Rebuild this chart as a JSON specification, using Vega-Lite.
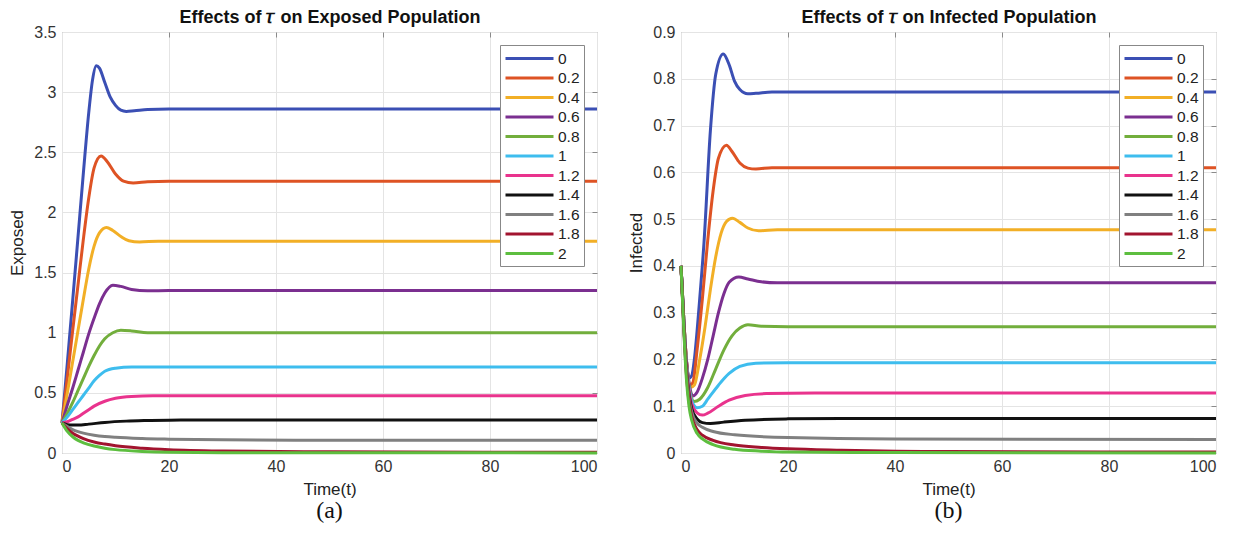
{
  "$schema": "https://vega.github.io/schema/vega-lite/v6.json",
  "padding": {"left": 8, "top": 8, "right": 0, "bottom": 0},
  "background": "white",
  "config": {
    "view": {"stroke": "#8a8a8a", "strokeWidth": 1},
    "axis": {"domain": false, "ticks": false, "grid": true, "gridColor": "#e4e4e4", "labelFont": "Liberation Sans", "labelFontSize": 16, "labelColor": "#333", "titleFont": "Liberation Sans", "titleFontSize": 17, "titleFontWeight": "normal", "titleColor": "#222", "tickColor": "#8a8a8a"},
    "axisX": {"labelPadding": 5, "titlePadding": 7},
    "axisY": {"labelPadding": 6, "titlePadding": 7},
    "legend": {"title": null, "orient": "top-right", "offset": 13, "fillColor": "white", "strokeColor": "#888", "padding": 4, "symbolType": "M-3,0H3", "symbolSize": 256, "symbolStrokeWidth": 3, "symbolOffset": 16, "labelOffset": 19, "labelFontSize": 15.5, "labelFont": "Liberation Sans", "labelColor": "#222", "rowPadding": 1.5}
  },
  "datasets": {
    "E": [
      {"tau":"0","t":0,"v":0.25},{"tau":"0","t":1,"v":0.75},{"tau":"0","t":2,"v":1.27},{"tau":"0","t":3,"v":1.8},{"tau":"0","t":4,"v":2.33},{"tau":"0","t":5,"v":2.83},{"tau":"0","t":5.7,"v":3.1},{"tau":"0","t":6.4,"v":3.22},{"tau":"0","t":7,"v":3.2},{"tau":"0","t":8,"v":3.08},{"tau":"0","t":9,"v":2.96},{"tau":"0","t":10,"v":2.89},{"tau":"0","t":11,"v":2.85},{"tau":"0","t":12,"v":2.84},{"tau":"0","t":13.5,"v":2.845},{"tau":"0","t":16,"v":2.855},{"tau":"0","t":20,"v":2.86},{"tau":"0","t":100,"v":2.86},
      {"tau":"0.2","t":0,"v":0.25},{"tau":"0.2","t":1,"v":0.63},{"tau":"0.2","t":2,"v":1.02},{"tau":"0.2","t":3,"v":1.4},{"tau":"0.2","t":4,"v":1.78},{"tau":"0.2","t":5,"v":2.12},{"tau":"0.2","t":6,"v":2.37},{"tau":"0.2","t":7.3,"v":2.47},{"tau":"0.2","t":8.5,"v":2.42},{"tau":"0.2","t":10,"v":2.32},{"tau":"0.2","t":11.5,"v":2.26},{"tau":"0.2","t":13.3,"v":2.245},{"tau":"0.2","t":16,"v":2.255},{"tau":"0.2","t":20,"v":2.26},{"tau":"0.2","t":100,"v":2.26},
      {"tau":"0.4","t":0,"v":0.25},{"tau":"0.4","t":1,"v":0.5},{"tau":"0.4","t":2,"v":0.76},{"tau":"0.4","t":3,"v":1.02},{"tau":"0.4","t":4,"v":1.28},{"tau":"0.4","t":5,"v":1.53},{"tau":"0.4","t":6,"v":1.72},{"tau":"0.4","t":7,"v":1.83},{"tau":"0.4","t":8.3,"v":1.875},{"tau":"0.4","t":9.5,"v":1.85},{"tau":"0.4","t":11,"v":1.8},{"tau":"0.4","t":12.5,"v":1.765},{"tau":"0.4","t":14.5,"v":1.755},{"tau":"0.4","t":18,"v":1.76},{"tau":"0.4","t":100,"v":1.76},
      {"tau":"0.6","t":0,"v":0.25},{"tau":"0.6","t":1,"v":0.4},{"tau":"0.6","t":2,"v":0.54},{"tau":"0.6","t":3,"v":0.69},{"tau":"0.6","t":4,"v":0.84},{"tau":"0.6","t":5,"v":0.99},{"tau":"0.6","t":6,"v":1.12},{"tau":"0.6","t":7,"v":1.24},{"tau":"0.6","t":8,"v":1.33},{"tau":"0.6","t":9.5,"v":1.395},{"tau":"0.6","t":11,"v":1.385},{"tau":"0.6","t":13,"v":1.36},{"tau":"0.6","t":16,"v":1.348},{"tau":"0.6","t":20,"v":1.35},{"tau":"0.6","t":100,"v":1.35},
      {"tau":"0.8","t":0,"v":0.25},{"tau":"0.8","t":1,"v":0.33},{"tau":"0.8","t":2,"v":0.42},{"tau":"0.8","t":3,"v":0.52},{"tau":"0.8","t":4,"v":0.62},{"tau":"0.8","t":5,"v":0.72},{"tau":"0.8","t":6,"v":0.81},{"tau":"0.8","t":7,"v":0.89},{"tau":"0.8","t":8,"v":0.95},{"tau":"0.8","t":9.5,"v":1.0},{"tau":"0.8","t":11,"v":1.02},{"tau":"0.8","t":13,"v":1.015},{"tau":"0.8","t":16,"v":1.0},{"tau":"0.8","t":100,"v":1.0},
      {"tau":"1","t":0,"v":0.25},{"tau":"1","t":1,"v":0.3},{"tau":"1","t":2,"v":0.36},{"tau":"1","t":3,"v":0.42},{"tau":"1","t":4,"v":0.48},{"tau":"1","t":5,"v":0.54},{"tau":"1","t":6,"v":0.6},{"tau":"1","t":7,"v":0.645},{"tau":"1","t":8,"v":0.68},{"tau":"1","t":10,"v":0.705},{"tau":"1","t":13,"v":0.715},{"tau":"1","t":100,"v":0.715},
      {"tau":"1.2","t":0,"v":0.25},{"tau":"1.2","t":1,"v":0.26},{"tau":"1.2","t":2,"v":0.28},{"tau":"1.2","t":3,"v":0.3},{"tau":"1.2","t":4,"v":0.33},{"tau":"1.2","t":5,"v":0.36},{"tau":"1.2","t":6,"v":0.39},{"tau":"1.2","t":8,"v":0.43},{"tau":"1.2","t":10,"v":0.455},{"tau":"1.2","t":13,"v":0.47},{"tau":"1.2","t":17,"v":0.475},{"tau":"1.2","t":100,"v":0.475},
      {"tau":"1.4","t":0,"v":0.25},{"tau":"1.4","t":1,"v":0.236},{"tau":"1.4","t":2,"v":0.232},{"tau":"1.4","t":3,"v":0.232},{"tau":"1.4","t":5,"v":0.24},{"tau":"1.4","t":8,"v":0.254},{"tau":"1.4","t":12,"v":0.265},{"tau":"1.4","t":16,"v":0.27},{"tau":"1.4","t":20,"v":0.273},{"tau":"1.4","t":30,"v":0.275},{"tau":"1.4","t":100,"v":0.275},
      {"tau":"1.6","t":0,"v":0.25},{"tau":"1.6","t":1,"v":0.22},{"tau":"1.6","t":2,"v":0.195},{"tau":"1.6","t":3,"v":0.178},{"tau":"1.6","t":4,"v":0.165},{"tau":"1.6","t":6,"v":0.148},{"tau":"1.6","t":8,"v":0.137},{"tau":"1.6","t":10,"v":0.13},{"tau":"1.6","t":15,"v":0.12},{"tau":"1.6","t":20,"v":0.115},{"tau":"1.6","t":30,"v":0.11},{"tau":"1.6","t":50,"v":0.106},{"tau":"1.6","t":100,"v":0.105},
      {"tau":"1.8","t":0,"v":0.25},{"tau":"1.8","t":1,"v":0.2},{"tau":"1.8","t":2,"v":0.165},{"tau":"1.8","t":3,"v":0.14},{"tau":"1.8","t":4,"v":0.12},{"tau":"1.8","t":6,"v":0.092},{"tau":"1.8","t":8,"v":0.074},{"tau":"1.8","t":10,"v":0.06},{"tau":"1.8","t":15,"v":0.04},{"tau":"1.8","t":20,"v":0.028},{"tau":"1.8","t":30,"v":0.017},{"tau":"1.8","t":50,"v":0.01},{"tau":"1.8","t":100,"v":0.006},
      {"tau":"2","t":0,"v":0.25},{"tau":"2","t":1,"v":0.18},{"tau":"2","t":2,"v":0.135},{"tau":"2","t":3,"v":0.105},{"tau":"2","t":4,"v":0.085},{"tau":"2","t":6,"v":0.058},{"tau":"2","t":8,"v":0.04},{"tau":"2","t":10,"v":0.028},{"tau":"2","t":15,"v":0.013},{"tau":"2","t":20,"v":0.006},{"tau":"2","t":30,"v":0.003},{"tau":"2","t":100,"v":0.001}
    ],
    "I": [
      {"tau":"0","t":0,"v":0.4},{"tau":"0","t":0.5,"v":0.29},{"tau":"0","t":1,"v":0.2},{"tau":"0","t":1.5,"v":0.16},{"tau":"0","t":2,"v":0.165},{"tau":"0","t":2.5,"v":0.2},{"tau":"0","t":3,"v":0.26},{"tau":"0","t":3.5,"v":0.33},{"tau":"0","t":4.3,"v":0.45},{"tau":"0","t":5.5,"v":0.69},{"tau":"0","t":6.5,"v":0.81},{"tau":"0","t":7.9,"v":0.853},{"tau":"0","t":9,"v":0.83},{"tau":"0","t":10,"v":0.795},{"tau":"0","t":11,"v":0.777},{"tau":"0","t":12.5,"v":0.768},{"tau":"0","t":14,"v":0.769},{"tau":"0","t":17,"v":0.772},{"tau":"0","t":100,"v":0.772},
      {"tau":"0.2","t":0,"v":0.4},{"tau":"0.2","t":0.5,"v":0.29},{"tau":"0.2","t":1,"v":0.2},{"tau":"0.2","t":1.6,"v":0.145},{"tau":"0.2","t":2.2,"v":0.15},{"tau":"0.2","t":3,"v":0.22},{"tau":"0.2","t":4,"v":0.33},{"tau":"0.2","t":5,"v":0.455},{"tau":"0.2","t":6,"v":0.56},{"tau":"0.2","t":7,"v":0.63},{"tau":"0.2","t":8.5,"v":0.658},{"tau":"0.2","t":9.5,"v":0.645},{"tau":"0.2","t":11,"v":0.62},{"tau":"0.2","t":12.5,"v":0.609},{"tau":"0.2","t":14,"v":0.607},{"tau":"0.2","t":17,"v":0.61},{"tau":"0.2","t":100,"v":0.61},
      {"tau":"0.4","t":0,"v":0.4},{"tau":"0.4","t":0.5,"v":0.29},{"tau":"0.4","t":1,"v":0.2},{"tau":"0.4","t":1.8,"v":0.14},{"tau":"0.4","t":2.5,"v":0.145},{"tau":"0.4","t":3.5,"v":0.2},{"tau":"0.4","t":4.5,"v":0.27},{"tau":"0.4","t":5.5,"v":0.35},{"tau":"0.4","t":6.5,"v":0.42},{"tau":"0.4","t":7.5,"v":0.47},{"tau":"0.4","t":8.5,"v":0.495},{"tau":"0.4","t":9.6,"v":0.502},{"tau":"0.4","t":11,"v":0.493},{"tau":"0.4","t":12.5,"v":0.481},{"tau":"0.4","t":14.5,"v":0.475},{"tau":"0.4","t":18,"v":0.477},{"tau":"0.4","t":100,"v":0.477},
      {"tau":"0.6","t":0,"v":0.4},{"tau":"0.6","t":0.5,"v":0.29},{"tau":"0.6","t":1,"v":0.2},{"tau":"0.6","t":1.5,"v":0.15},{"tau":"0.6","t":2.2,"v":0.122},{"tau":"0.6","t":3,"v":0.13},{"tau":"0.6","t":4,"v":0.16},{"tau":"0.6","t":5,"v":0.2},{"tau":"0.6","t":6,"v":0.25},{"tau":"0.6","t":7,"v":0.3},{"tau":"0.6","t":8,"v":0.34},{"tau":"0.6","t":9,"v":0.365},{"tau":"0.6","t":10.8,"v":0.376},{"tau":"0.6","t":12.5,"v":0.372},{"tau":"0.6","t":15,"v":0.366},{"tau":"0.6","t":18,"v":0.364},{"tau":"0.6","t":100,"v":0.364},
      {"tau":"0.8","t":0,"v":0.4},{"tau":"0.8","t":0.5,"v":0.29},{"tau":"0.8","t":1,"v":0.19},{"tau":"0.8","t":1.6,"v":0.135},{"tau":"0.8","t":2.4,"v":0.11},{"tau":"0.8","t":3.5,"v":0.115},{"tau":"0.8","t":5,"v":0.14},{"tau":"0.8","t":6.5,"v":0.18},{"tau":"0.8","t":8,"v":0.22},{"tau":"0.8","t":9.5,"v":0.25},{"tau":"0.8","t":11,"v":0.267},{"tau":"0.8","t":12.5,"v":0.274},{"tau":"0.8","t":15,"v":0.271},{"tau":"0.8","t":20,"v":0.27},{"tau":"0.8","t":100,"v":0.27},
      {"tau":"1","t":0,"v":0.4},{"tau":"1","t":0.5,"v":0.29},{"tau":"1","t":1,"v":0.19},{"tau":"1","t":1.5,"v":0.14},{"tau":"1","t":2,"v":0.112},{"tau":"1","t":3,"v":0.097},{"tau":"1","t":4,"v":0.1},{"tau":"1","t":5,"v":0.115},{"tau":"1","t":7,"v":0.145},{"tau":"1","t":9,"v":0.17},{"tau":"1","t":11,"v":0.185},{"tau":"1","t":14,"v":0.192},{"tau":"1","t":20,"v":0.193},{"tau":"1","t":100,"v":0.193},
      {"tau":"1.2","t":0,"v":0.4},{"tau":"1.2","t":0.5,"v":0.285},{"tau":"1.2","t":1,"v":0.185},{"tau":"1.2","t":1.5,"v":0.135},{"tau":"1.2","t":2,"v":0.105},{"tau":"1.2","t":3,"v":0.086},{"tau":"1.2","t":4,"v":0.081},{"tau":"1.2","t":5,"v":0.085},{"tau":"1.2","t":7,"v":0.1},{"tau":"1.2","t":9,"v":0.113},{"tau":"1.2","t":12,"v":0.123},{"tau":"1.2","t":16,"v":0.127},{"tau":"1.2","t":25,"v":0.128},{"tau":"1.2","t":100,"v":0.128},
      {"tau":"1.4","t":0,"v":0.4},{"tau":"1.4","t":0.5,"v":0.28},{"tau":"1.4","t":1,"v":0.18},{"tau":"1.4","t":1.5,"v":0.125},{"tau":"1.4","t":2,"v":0.095},{"tau":"1.4","t":3,"v":0.073},{"tau":"1.4","t":4,"v":0.065},{"tau":"1.4","t":5.5,"v":0.063},{"tau":"1.4","t":8,"v":0.066},{"tau":"1.4","t":12,"v":0.07},{"tau":"1.4","t":20,"v":0.073},{"tau":"1.4","t":30,"v":0.074},{"tau":"1.4","t":100,"v":0.074},
      {"tau":"1.6","t":0,"v":0.4},{"tau":"1.6","t":0.5,"v":0.28},{"tau":"1.6","t":1,"v":0.175},{"tau":"1.6","t":1.5,"v":0.118},{"tau":"1.6","t":2,"v":0.088},{"tau":"1.6","t":3,"v":0.064},{"tau":"1.6","t":4,"v":0.055},{"tau":"1.6","t":6,"v":0.046},{"tau":"1.6","t":10,"v":0.039},{"tau":"1.6","t":20,"v":0.033},{"tau":"1.6","t":40,"v":0.03},{"tau":"1.6","t":100,"v":0.029},
      {"tau":"1.8","t":0,"v":0.4},{"tau":"1.8","t":0.5,"v":0.275},{"tau":"1.8","t":1,"v":0.17},{"tau":"1.8","t":1.5,"v":0.11},{"tau":"1.8","t":2,"v":0.078},{"tau":"1.8","t":3,"v":0.05},{"tau":"1.8","t":4,"v":0.038},{"tau":"1.8","t":6,"v":0.027},{"tau":"1.8","t":10,"v":0.017},{"tau":"1.8","t":15,"v":0.012},{"tau":"1.8","t":20,"v":0.009},{"tau":"1.8","t":30,"v":0.006},{"tau":"1.8","t":50,"v":0.003},{"tau":"1.8","t":100,"v":0.002},
      {"tau":"2","t":0,"v":0.4},{"tau":"2","t":0.5,"v":0.27},{"tau":"2","t":1,"v":0.16},{"tau":"2","t":1.5,"v":0.1},{"tau":"2","t":2,"v":0.07},{"tau":"2","t":3,"v":0.042},{"tau":"2","t":4,"v":0.03},{"tau":"2","t":6,"v":0.018},{"tau":"2","t":10,"v":0.008},{"tau":"2","t":15,"v":0.004},{"tau":"2","t":20,"v":0.002},{"tau":"2","t":40,"v":0.001},{"tau":"2","t":100,"v":0}
    ]
  },
  "spacing": 84,
  "bounds": "flush",
  "hconcat": [
    {
      "width": 535, "height": 421,
      "data": {"name": "E"},
      "title": {"text": "(a)", "orient": "bottom", "font": "Liberation Serif", "fontSize": 24, "fontWeight": "normal", "color": "#111", "offset": 2},
      "layer": [
        {
          "mark": {"type": "line", "interpolate": "monotone", "strokeWidth": 3},
          "encoding": {
            "x": {"field": "t", "type": "quantitative", "scale": {"domain": [0, 100], "nice": false}, "axis": {"title": "Time(t)", "values": [0, 20, 40, 60, 80, 100]}},
            "y": {"field": "v", "type": "quantitative", "scale": {"domain": [0, 3.5], "nice": false}, "axis": {"title": "Exposed", "values": [0, 0.5, 1, 1.5, 2, 2.5, 3, 3.5], "format": "~g"}},
            "color": {"field": "tau", "type": "nominal", "sort": null, "scale": {"domain": ["0", "0.2", "0.4", "0.6", "0.8", "1", "1.2", "1.4", "1.6", "1.8", "2"], "range": ["#3B4FB4", "#DE5324", "#F2AF26", "#7B2F90", "#72AE3C", "#3EBDEE", "#E9338D", "#111111", "#808080", "#A2142F", "#5DBE3F"]}}
          }
        },
        {
          "mark": {"type": "rule", "opacity": 0},
          "encoding": {
            "x": {"datum": 0, "type": "quantitative", "axis": {"orient": "top", "title": "Effects of 𝜏 on Exposed Population", "labels": false, "grid": false, "ticks": true, "tickSize": -5, "values": [20, 40, 60, 80], "titleFontWeight": "bold", "titleFontSize": 18, "titleColor": "#111", "titlePadding": 5}},
            "y": {"datum": 0, "type": "quantitative", "axis": {"orient": "right", "title": null, "labels": false, "grid": false, "ticks": true, "tickSize": -5, "values": [0.5, 1, 1.5, 2, 2.5, 3]}}
          }
        }
      ],
      "resolve": {"axis": {"x": "independent", "y": "independent"}}
    },
    {
      "width": 535, "height": 421,
      "data": {"name": "I"},
      "title": {"text": "(b)", "orient": "bottom", "font": "Liberation Serif", "fontSize": 24, "fontWeight": "normal", "color": "#111", "offset": 2},
      "layer": [
        {
          "mark": {"type": "line", "interpolate": "monotone", "strokeWidth": 3},
          "encoding": {
            "x": {"field": "t", "type": "quantitative", "scale": {"domain": [0, 100], "nice": false}, "axis": {"title": "Time(t)", "values": [0, 20, 40, 60, 80, 100]}},
            "y": {"field": "v", "type": "quantitative", "scale": {"domain": [0, 0.9], "nice": false}, "axis": {"title": "Infected", "values": [0, 0.1, 0.2, 0.3, 0.4, 0.5, 0.6, 0.7, 0.8, 0.9], "format": "~g"}},
            "color": {"field": "tau", "type": "nominal", "sort": null, "scale": {"domain": ["0", "0.2", "0.4", "0.6", "0.8", "1", "1.2", "1.4", "1.6", "1.8", "2"], "range": ["#3B4FB4", "#DE5324", "#F2AF26", "#7B2F90", "#72AE3C", "#3EBDEE", "#E9338D", "#111111", "#808080", "#A2142F", "#5DBE3F"]}}
          }
        },
        {
          "mark": {"type": "rule", "opacity": 0},
          "encoding": {
            "x": {"datum": 0, "type": "quantitative", "axis": {"orient": "top", "title": "Effects of 𝜏 on Infected Population", "labels": false, "grid": false, "ticks": true, "tickSize": -5, "values": [20, 40, 60, 80], "titleFontWeight": "bold", "titleFontSize": 18, "titleColor": "#111", "titlePadding": 5}},
            "y": {"datum": 0, "type": "quantitative", "axis": {"orient": "right", "title": null, "labels": false, "grid": false, "ticks": true, "tickSize": -5, "values": [0.1, 0.2, 0.3, 0.4, 0.5, 0.6, 0.7, 0.8]}}
          }
        }
      ],
      "resolve": {"axis": {"x": "independent", "y": "independent"}}
    }
  ],
  "resolve": {"scale": {"color": "independent"}}
}
